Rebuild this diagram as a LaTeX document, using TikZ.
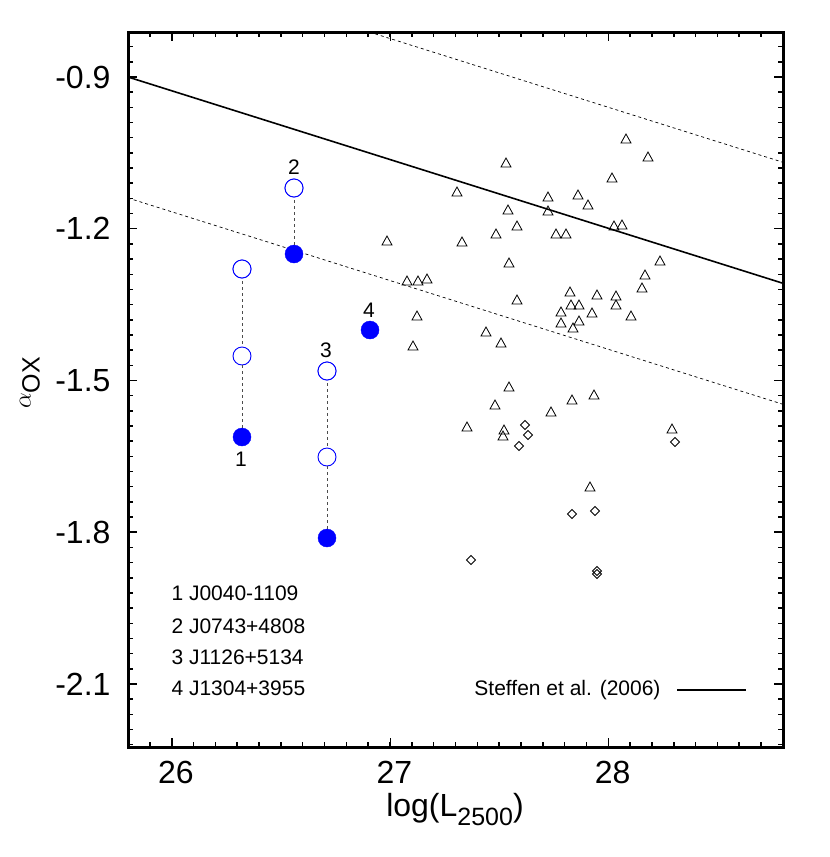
\documentclass[tikz,border=0pt]{standalone}
\usepackage{fontspec}
\setmainfont{Liberation Sans}
\begin{document}
\begin{tikzpicture}[x=1pt,y=-1pt,
  tri/.style={draw=black,line width=0.8pt,inner sep=0pt,minimum size=0pt},
  openpt/.style={circle,draw=blue,fill=white,line width=0.9pt,minimum size=18pt,inner sep=0pt},
  fullpt/.style={circle,draw=blue,fill=blue,minimum size=18pt,inner sep=0pt},
  conn/.style={dashed,draw=black!70,line width=0.8pt},
  ticklab/.style={font=\fontsize{32}{34}\selectfont},
  leg/.style={font=\fontsize{21}{23}\selectfont,anchor=west},
  num/.style={font=\fontsize{21}{23}\selectfont}]
\useasboundingbox (0,0) rectangle (830,857);
% ticks
\foreach \i in {0,...,30}{
  \pgfmathsetmacro\xx{128+\i*21.83}
  \draw[line width=1.5pt] (\xx,747) -- (\xx,742);
  \draw[line width=1.5pt] (\xx,32) -- (\xx,37);}
\foreach \v in {26,27,28}{
  \pgfmathsetmacro\xx{172+(\v-26)*218.3}
  \draw[line width=1.5pt] (\xx,747) -- (\xx,738);
  \draw[line width=1.5pt] (\xx,32) -- (\xx,41);
  \node[ticklab] (xl\v) at (\xx+4,772) {\v};}
\foreach \i in {-2,...,44}{
  \pgfmathsetmacro\yy{77+\i*15.174}
  \draw[line width=1.5pt] (128,\yy) -- (133,\yy);
  \draw[line width=1.5pt] (783,\yy) -- (778,\yy);}
\foreach \v/\k in {-0.9/0,-1.2/1,-1.5/2,-1.8/3,-2.1/4}{
  \pgfmathsetmacro\yy{77+\k*151.74}
  \draw[line width=1.5pt] (128,\yy) -- (137,\yy);
  \draw[line width=1.5pt] (783,\yy) -- (774,\yy);
  \node[ticklab,anchor=east] (yl\k) at (114,\yy) {\v};}
% frame
\draw[line width=3pt] (128,32) rectangle (783,747);
% relations
\coordinate (s1) at (128,77); \coordinate (s2) at (783,283.3);
\draw[line width=1.6pt] (s1) -- (s2);
\coordinate (u1) at (369.3,32); \coordinate (u2) at (783,162.3);
\draw[dashed,line width=0.7pt] (u1) -- (u2);
\coordinate (l1) at (128,198); \coordinate (l2) at (783,404.3);
\draw[dashed,line width=0.7pt] (l1) -- (l2);
% triangles
\foreach \a/\b [count=\n] in {626/139,648/157,506/163,612/178,457/192,548/197,578/195,588/205,508/210,548/211,517/226,614/226,622/225,496/234,556/234,566/234,462/242,387/241,660/261,509/263,645/275,407/281,418/281,427/279,642/288,570/292,597/295,616/296,517/300,571/305,579/305,616/305,561/312,592/313,417/316,631/316,561/323,579/321,573/328,486/332,501/343,413/346,509/387,495/405,572/400,594/395,551/412,467/427,504/430,503/436,672/429,590/487}{
  \draw[tri] (\a-5,\b+4) -- (\a+5,\b+4) -- (\a,\b-5) -- cycle;
  \coordinate (t\n) at (\a,\b);}
% diamonds
\foreach \a/\b [count=\n] in {525/425,528/435,519/446,675/442,572/514,595/511,471/560,597/571,597/574}{
  \draw[tri] (\a-4.5,\b) -- (\a,\b-4.5) -- (\a+4.5,\b) -- (\a,\b+4.5) -- cycle;
  \coordinate (d\n) at (\a,\b);}
% blue objects
\node[openpt] (o1a) at (242,269) {};
\node[openpt] (o1b) at (242,356) {};
\node[fullpt] (f1) at (242,437) {};
\node[openpt] (o2) at (294,188) {};
\node[fullpt] (f2) at (294,254) {};
\node[openpt] (o3a) at (327,371) {};
\node[openpt] (o3b) at (327,457) {};
\node[fullpt] (f3) at (327,538) {};
\node[fullpt] (f4) at (370,330) {};
\draw[conn] (o1a.center) -- (o1b); \draw[conn] (o1b) -- (f1);
\draw[conn] (o2.center) -- (f2);
\draw[conn] (o3a.center) -- (o3b); \draw[conn] (o3b) -- (f3);
\node[openpt] at (242,269) {};
\node[openpt] at (294,188) {};
\node[openpt] at (327,371) {};
\node[num] (n1) at (241,459) {1};
\node[num] (n2) at (294,167) {2};
\node[num] (n3) at (326,350) {3};
\node[num] (n4) at (369,310) {4};
% legend
\node[leg] (g1) at (168,593) {1 J0040-1109};
\node[leg] (g2) at (168,626) {2 J0743+4808};
\node[leg] (g3) at (168,657) {3 J1126+5134};
\node[leg] (g4) at (168,688) {4 J1304+3955};
\node[leg,anchor=east] (st) at (664,690) {Steffen et al. (2006)};
\coordinate (k1) at (677,690); \coordinate (k2) at (746,690);
\draw[line width=1.6pt] (k1) -- (k2);
% axis titles
\node[font=\fontsize{32}{34}\selectfont] (xt) at (455,810) {log(L\raisebox{-9pt}{\fontsize{25}{27}\selectfont 2500})};
\node[font=\fontsize{32}{34}\selectfont,rotate=90] (yt) at (30,383) {$\alpha$\raisebox{-9pt}{\fontsize{25}{27}\selectfont OX}};
\end{tikzpicture}
\end{document}
